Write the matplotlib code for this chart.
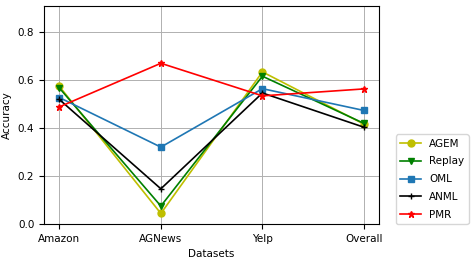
import numpy as np
import matplotlib.pyplot as plt

# Data:
datasets = ["Amazon", "AGNews", "Yelp", "Overall"]
agem = [0.575, 0.044, 0.635, 0.417]
replay = [0.568, 0.075, 0.617, 0.420]
oml = [0.528, 0.321, 0.565, 0.474]
anml = [0.520, 0.147, 0.547, 0.404]
pmr = [0.489, 0.671, 0.535, 0.564]

x = np.arange(len(datasets))

# Setup figure:
fig = plt.figure(figsize=(4.74, 2.62), dpi=100)
ax = fig.add_axes([0.093, 0.145, 0.707, 0.832])

lw = 1.2
ms = 5
ax.plot(x, agem, color="y", marker="o", lw=lw, ms=ms, label="AGEM")
ax.plot(x, replay, color="g", marker="v", lw=lw, ms=ms, label="Replay")
ax.plot(x, oml, color="tab:blue", marker="s", lw=lw, ms=ms, label="OML")
ax.plot(x, anml, color="k", marker="+", lw=lw, ms=ms, label="ANML")
ax.plot(x, pmr, color="r", marker="*", lw=lw, ms=ms, label="PMR")

ax.set_xticks(x)
ax.set_xticklabels(datasets, fontsize=7.5)
ax.tick_params(axis="y", labelsize=7.5)
ax.set_yticks([0.0, 0.2, 0.4, 0.6, 0.8])
ax.set_ylim(0, 0.91)
ax.set_xlabel("Datasets", fontsize=7.5)
ax.set_ylabel("Accuracy", fontsize=7.5)
ax.grid(True, lw=0.7)

ax.legend(loc="lower left", bbox_to_anchor=(1.05, 0), borderaxespad=0,
          fontsize=7.5, labelspacing=0.75)

plt.savefig("out.png", dpi=100)
